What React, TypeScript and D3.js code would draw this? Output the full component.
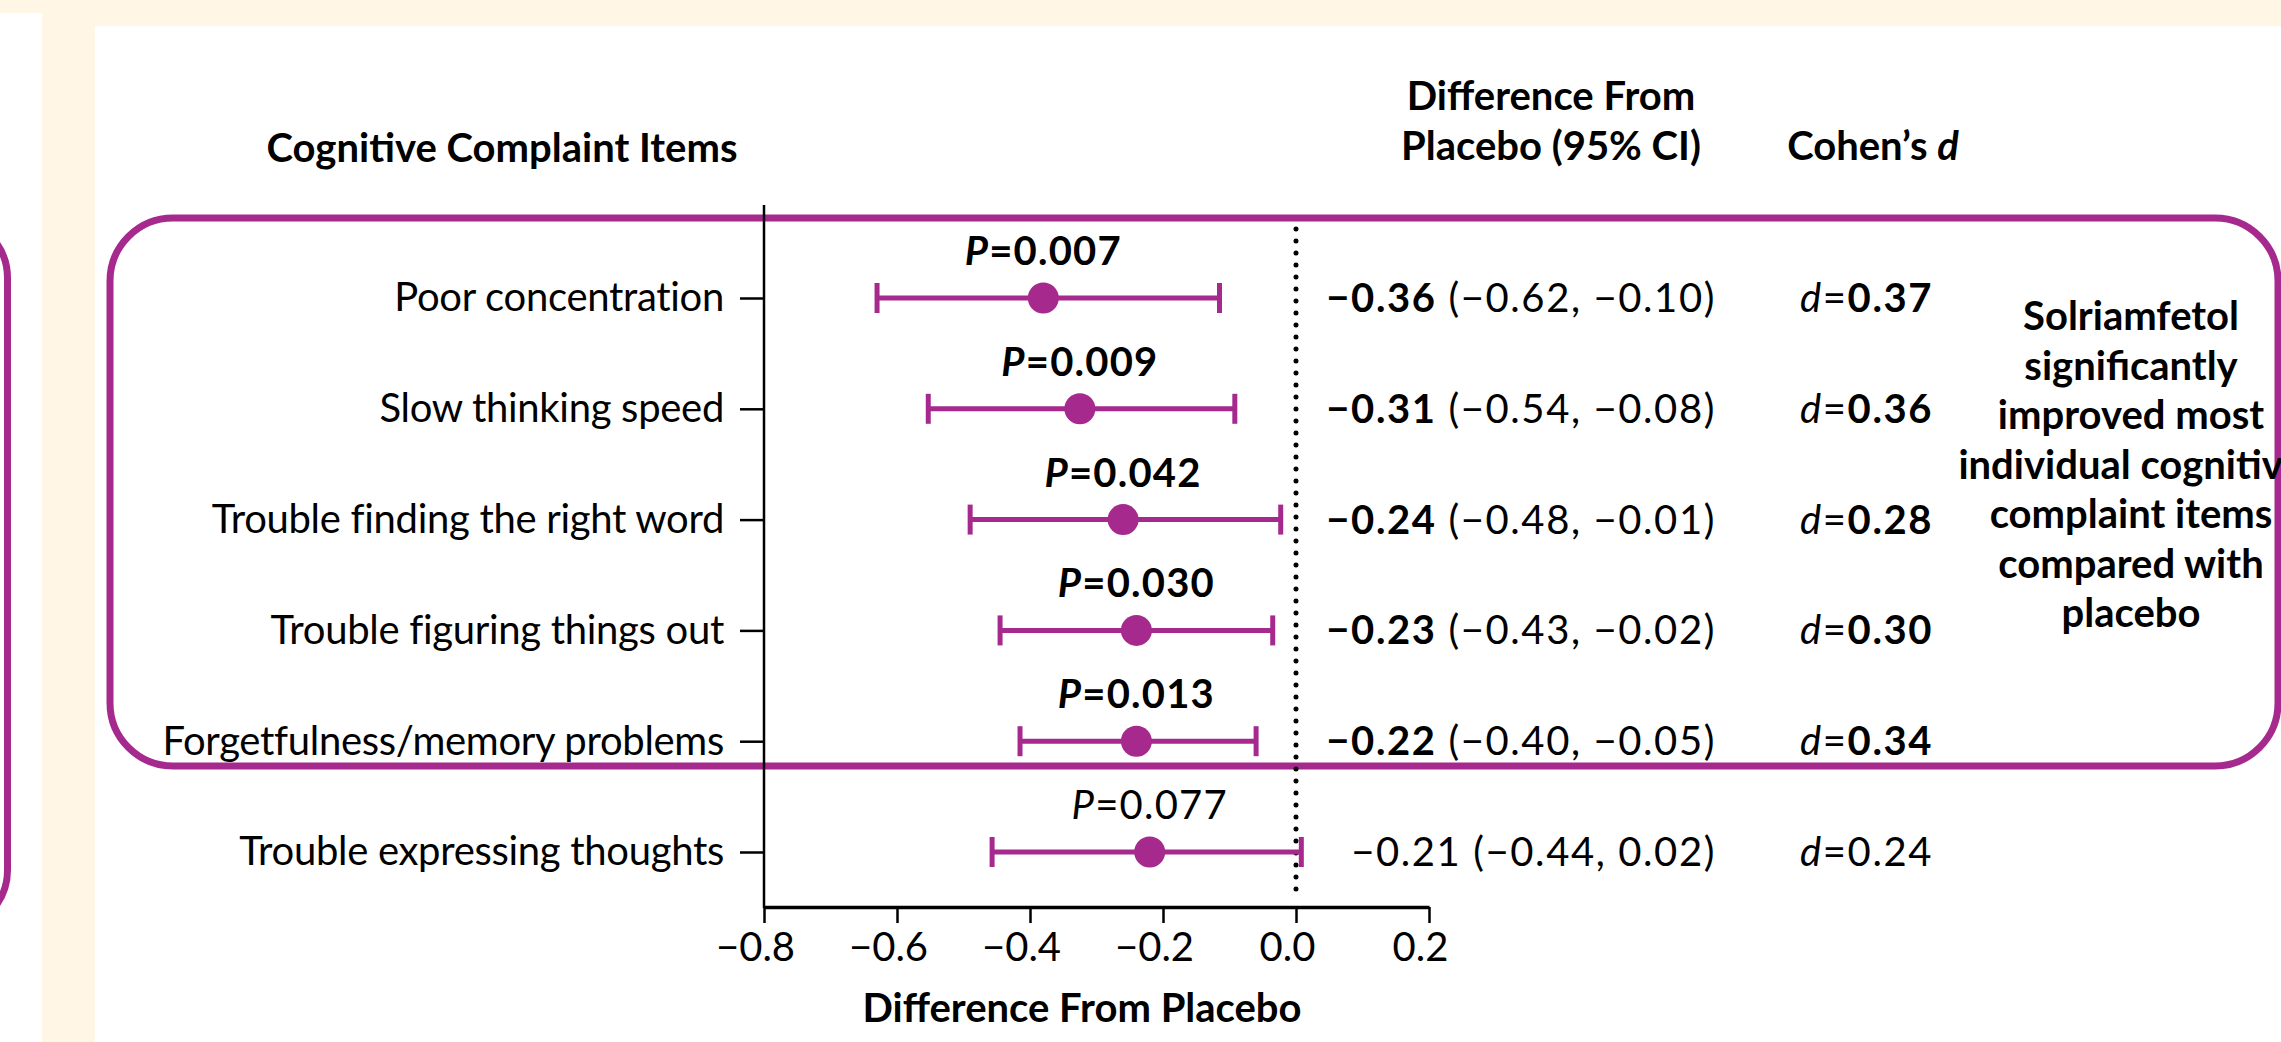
import React, { Component } from "react";
import * as d3 from "d3";

// forest plot data
const items = [
  "Poor concentration",
  "Slow thinking speed",
  "Trouble finding the right word",
  "Trouble figuring things out",
  "Forgetfulness/memory problems",
  "Trouble expressing thoughts",
];
const estimates = [-0.38, -0.325, -0.26, -0.24, -0.24, -0.22];
const ciLow = [-0.63, -0.553, -0.49, -0.445, -0.415, -0.457];
const ciHigh = [-0.115, -0.092, -0.023, -0.035, -0.06, 0.008];
const significant = [true, true, true, true, true, false];

// text columns
const pValues = ["0.007", "0.009", "0.042", "0.030", "0.013", "0.077"];
const diffValues = ["−0.36", "−0.31", "−0.24", "−0.23", "−0.22", "−0.21"];
const diffCIs = [
  "(−0.62, −0.10)",
  "(−0.54, −0.08)",
  "(−0.48, −0.01)",
  "(−0.43, −0.02)",
  "(−0.40, −0.05)",
  "(−0.44, 0.02)",
];
const cohensD = ["0.37", "0.36", "0.28", "0.30", "0.34", "0.24"];

const xTicks = [-0.8, -0.6, -0.4, -0.2, 0, 0.2];
const noteLines = [
  "Solriamfetol",
  "significantly",
  "improved most",
  "individual cognitive",
  "complaint items",
  "compared with",
  "placebo",
];

const purple = "#A62A8E";
const beige = "#FFF6E6";
const font = "Lato, 'Noto Sans', sans-serif";
const fs = 40;

class App extends Component {
  svgRef = React.createRef<SVGSVGElement>();

  componentDidMount() {
    document.body.style.margin = "0";
    const svg = d3.select(this.svgRef.current);
    svg.selectAll("*").remove();

    // poster background
    svg.append("rect").attr("width", 2281).attr("height", 1042).attr("fill", beige);
    svg.append("rect").attr("x", 0).attr("y", 13).attr("width", 42).attr("height", 1029).attr("fill", "#fff");
    svg.append("rect").attr("x", 95).attr("y", 26).attr("width", 2186).attr("height", 1016).attr("fill", "#fff");

    // purple boxes
    svg.append("rect")
      .attr("x", -300).attr("y", 218).attr("width", 307.5).attr("height", 712)
      .attr("rx", 60)
      .attr("fill", "none").attr("stroke", purple).attr("stroke-width", 7);
    svg.append("rect")
      .attr("x", 110).attr("y", 218).attr("width", 2168).attr("height", 548)
      .attr("rx", 63)
      .attr("fill", "none").attr("stroke", purple).attr("stroke-width", 7);

    const x = d3.scaleLinear().domain([-0.8, 0.2]).range([764, 1429]);
    const y = d3.scalePoint<string>().domain(items).range([298, 852]);

    // headers
    const header = svg.append("g")
      .attr("font-family", font).attr("font-size", fs).attr("font-weight", "bold")
      .attr("text-anchor", "middle").attr("fill", "#000");
    header.append("text").attr("x", 502).attr("y", 162).text("Cognitive Complaint Items");
    header.append("text").attr("x", 1551).attr("y", 110).text("Difference From");
    header.append("text").attr("x", 1551).attr("y", 160).text("Placebo (95% CI)");
    const coh = header.append("text").attr("x", 1873).attr("y", 160);
    coh.append("tspan").text("Cohen’s ");
    coh.append("tspan").attr("font-style", "italic").text("d");

    // y axis
    const yAxis = svg.append("g")
      .attr("transform", `translate(${x(-0.8)},0)`)
      .call(d3.axisLeft(y).tickSize(24).tickPadding(16));
    yAxis.select(".domain").remove();
    yAxis.selectAll("line").attr("stroke", "#000").attr("stroke-width", 2.5);
    yAxis.selectAll("text")
      .attr("font-family", font).attr("font-size", fs).attr("fill", "#000")
      .attr("letter-spacing", -0.3);
    svg.append("line")
      .attr("x1", x(-0.8)).attr("x2", x(-0.8))
      .attr("y1", 205).attr("y2", 908)
      .attr("stroke", "#000").attr("stroke-width", 2.5);

    // x axis
    const xAxis = svg.append("g")
      .attr("transform", "translate(0,907)")
      .call(
        d3.axisBottom(x)
          .tickValues(xTicks)
          .tickFormat(d3.format(".1f"))
          .tickSize(16)
          .tickSizeOuter(0)
          .tickPadding(10)
      );
    xAxis.select(".domain").attr("stroke", "#000").attr("stroke-width", 3.5);
    xAxis.selectAll("line").attr("stroke", "#000").attr("stroke-width", 2.5);
    xAxis.selectAll("text")
      .attr("font-family", font).attr("font-size", fs).attr("fill", "#000")
      .attr("dx", -9);
    svg.append("text")
      .attr("x", 1082).attr("y", 1022)
      .attr("text-anchor", "middle")
      .attr("font-family", font).attr("font-size", fs).attr("font-weight", "bold")
      .text("Difference From Placebo");

    // zero reference line
    svg.append("line")
      .attr("x1", x(0)).attr("x2", x(0))
      .attr("y1", 229).attr("y2", 895)
      .attr("stroke", "#000").attr("stroke-width", 5)
      .attr("stroke-linecap", "round").attr("stroke-dasharray", "0 12");

    // error bars + points
    const rows = items.map((d, i) => ({
      item: d, est: estimates[i], lo: ciLow[i], hi: ciHigh[i], sig: significant[i],
      p: pValues[i], diff: diffValues[i], ci: diffCIs[i], d: cohensD[i],
    }));

    const marks = svg.append("g").selectAll("g").data(rows).enter().append("g");
    marks.append("line")
      .attr("x1", (r) => x(r.lo)).attr("x2", (r) => x(r.hi))
      .attr("y1", (r) => y(r.item)!).attr("y2", (r) => y(r.item)!)
      .attr("stroke", purple).attr("stroke-width", 5);
    marks.append("line")
      .attr("x1", (r) => x(r.lo)).attr("x2", (r) => x(r.lo))
      .attr("y1", (r) => y(r.item)! - 15).attr("y2", (r) => y(r.item)! + 15)
      .attr("stroke", purple).attr("stroke-width", 5);
    marks.append("line")
      .attr("x1", (r) => x(r.hi)).attr("x2", (r) => x(r.hi))
      .attr("y1", (r) => y(r.item)! - 15).attr("y2", (r) => y(r.item)! + 15)
      .attr("stroke", purple).attr("stroke-width", 5);
    marks.append("circle")
      .attr("cx", (r) => x(r.est)).attr("cy", (r) => y(r.item)!)
      .attr("r", 15.5).attr("fill", purple);

    // P values above each point
    const pText = marks.append("text")
      .attr("x", (r) => x(r.est)).attr("y", (r) => y(r.item)! - 33)
      .attr("text-anchor", "middle")
      .attr("font-family", font).attr("font-size", fs)
      .attr("letter-spacing", 1.2)
      .attr("font-weight", (r) => (r.sig ? "bold" : "normal"));
    pText.append("tspan").attr("font-style", "italic").text("P");
    pText.append("tspan").text((r) => "=" + r.p);

    // difference column
    const diffText = marks.append("text")
      .attr("x", 1716).attr("y", (r) => y(r.item)! + 14)
      .attr("text-anchor", "end")
      .attr("font-family", font).attr("font-size", fs)
      .attr("letter-spacing", 1.6);
    diffText.append("tspan")
      .attr("font-weight", (r) => (r.sig ? "bold" : "normal"))
      .text((r) => r.diff);
    diffText.append("tspan").text((r) => " " + r.ci);

    // cohen's d column
    const dText = marks.append("text")
      .attr("x", 1800).attr("y", (r) => y(r.item)! + 14)
      .attr("font-family", font).attr("font-size", fs)
      .attr("letter-spacing", 1.6);
    dText.append("tspan").attr("font-style", "italic").text("d");
    dText.append("tspan").text("=");
    dText.append("tspan")
      .attr("font-weight", (r) => (r.sig ? "bold" : "normal"))
      .text((r) => r.d);

    // note on the right
    svg.append("g")
      .attr("font-family", font).attr("font-size", fs).attr("font-weight", "bold")
      .attr("text-anchor", "middle")
      .selectAll("text").data(noteLines).enter().append("text")
      .attr("x", 2131).attr("y", (d, i) => 330 + i * 49.5)
      .text((d) => d);
  }

  render() {
    return <svg ref={this.svgRef} width={2281} height={1042} style={{ display: "block" }} />;
  }
}

export default App;
